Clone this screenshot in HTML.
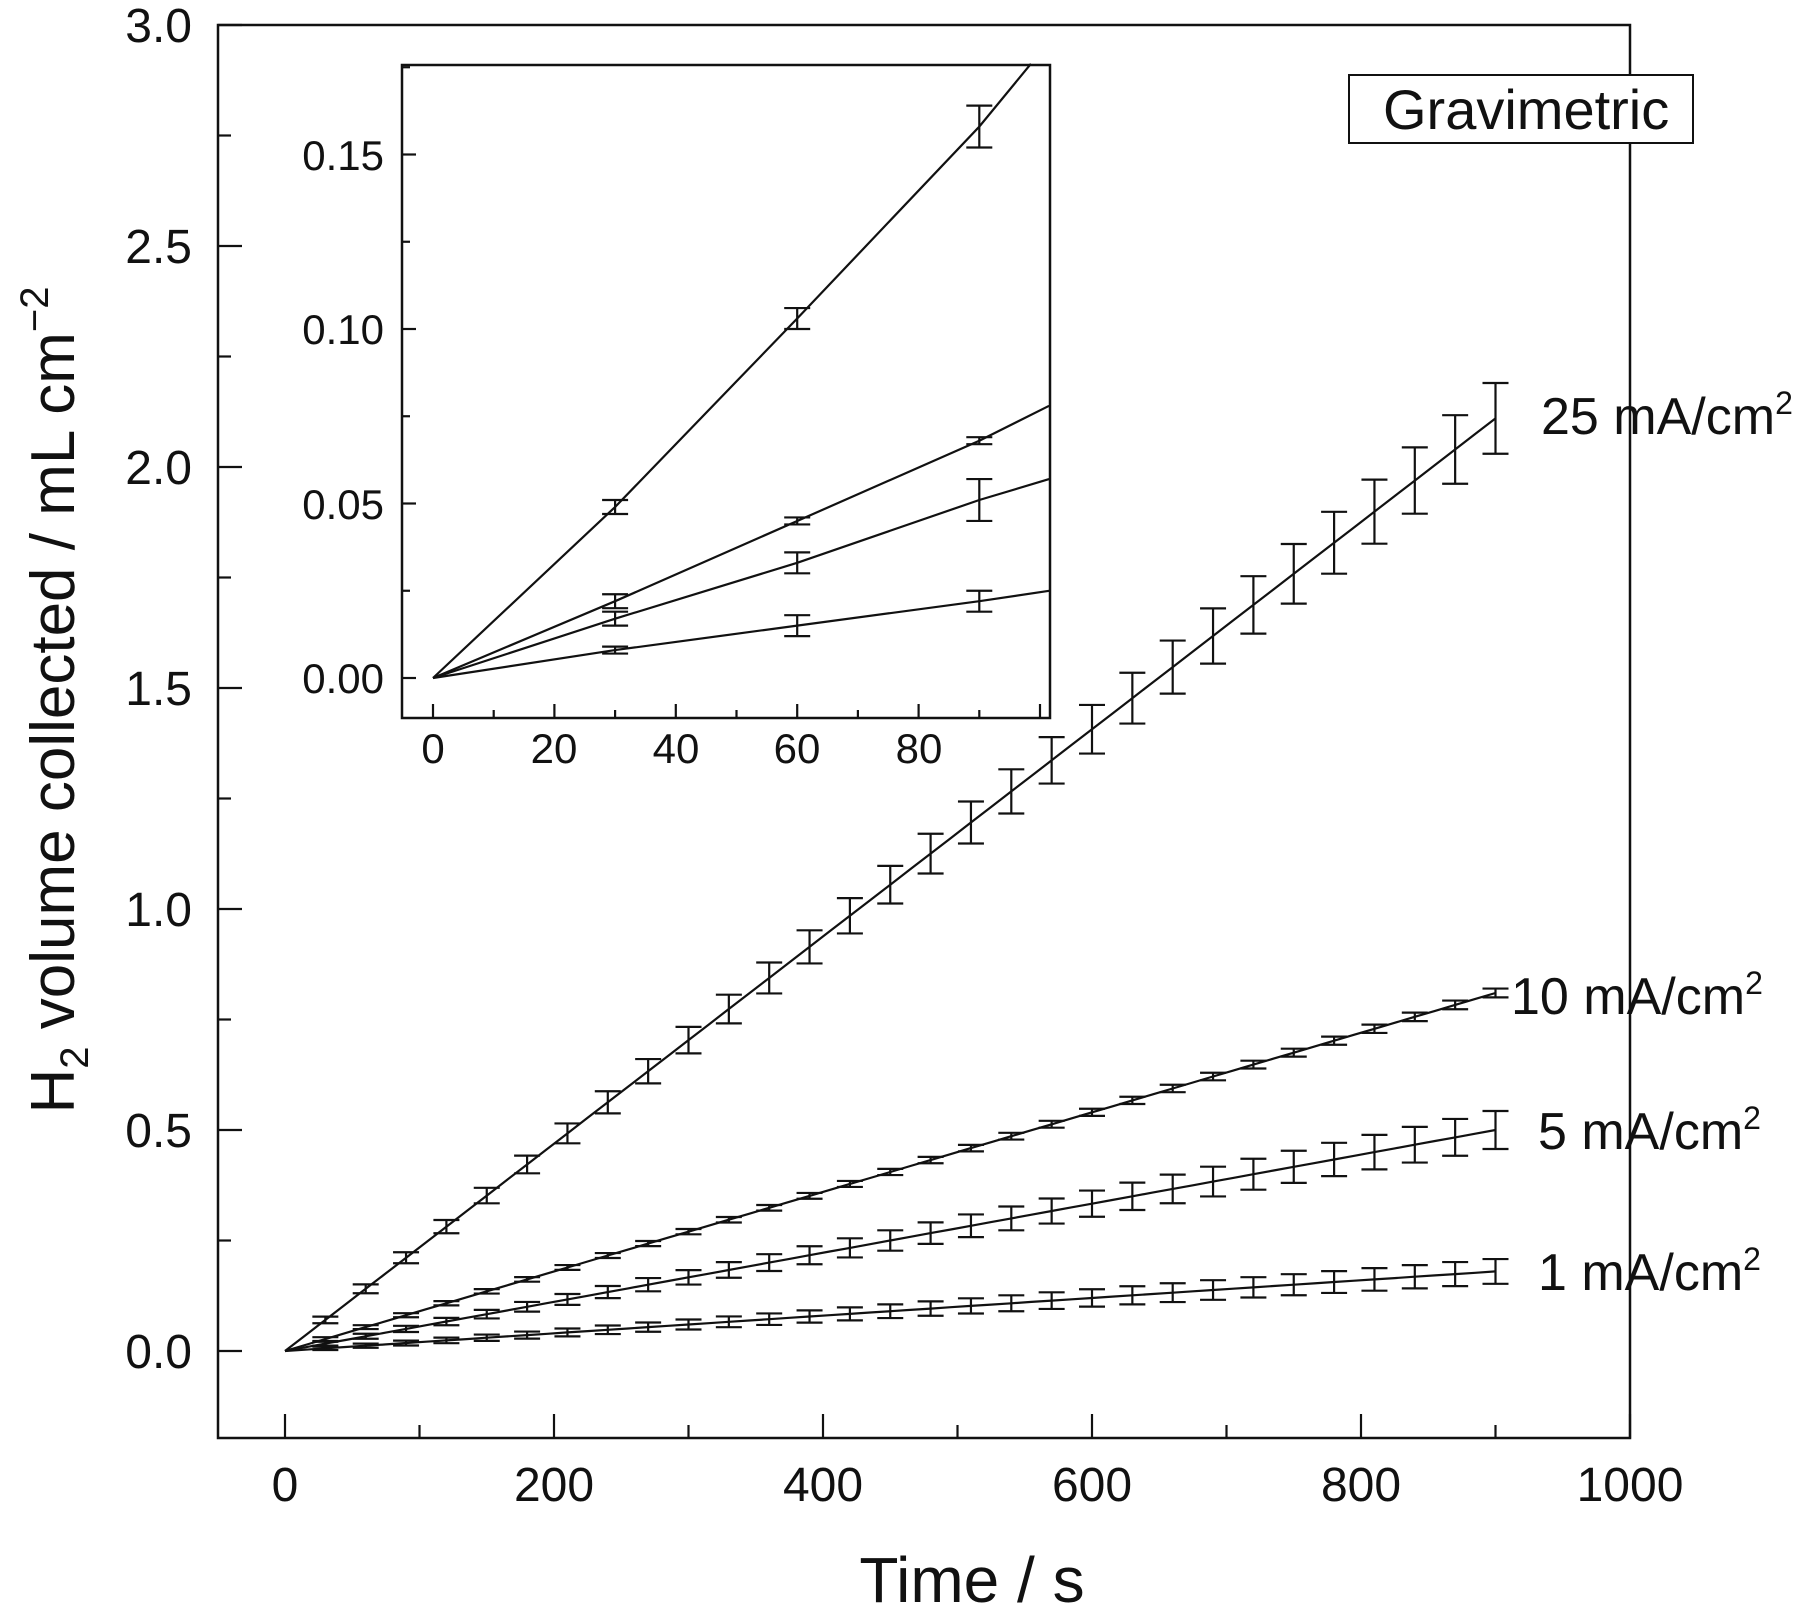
<!DOCTYPE html>
<html><head><meta charset="utf-8"><style>
html,body{margin:0;padding:0;background:#fff;width:1800px;height:1607px;overflow:hidden}
svg{display:block}
text{font-family:"Liberation Sans",sans-serif;fill:#111}
</style></head><body>
<svg id="s" width="1800" height="1607" viewBox="0 0 1800 1607" xmlns="http://www.w3.org/2000/svg">
<g id="g" stroke="#111" fill="none" stroke-width="2.2"></g>
<rect x="218" y="25" width="1412" height="1413" fill="none" stroke="#111" stroke-width="2.5"/>
<rect x="402" y="65" width="648" height="653" fill="none" stroke="#111" stroke-width="2.5"/>
<rect x="1349" y="75" width="344" height="68" fill="#fff" stroke="#111" stroke-width="2"/>
<text x="1383" y="129" font-size="56">Gravimetric</text>
<g font-size="48" text-anchor="end">
<text x="192" y="1368">0.0</text><text x="192" y="1147">0.5</text><text x="192" y="926">1.0</text>
<text x="192" y="705">1.5</text><text x="192" y="484">2.0</text><text x="192" y="263">2.5</text><text x="192" y="42">3.0</text>
</g>
<g font-size="48" text-anchor="middle">
<text x="285" y="1501">0</text><text x="554" y="1501">200</text><text x="823" y="1501">400</text>
<text x="1092" y="1501">600</text><text x="1361" y="1501">800</text><text x="1630" y="1501">1000</text>
</g>
<text x="972" y="1602" font-size="64" text-anchor="middle">Time / s</text>
<text transform="translate(74,700) rotate(-90)" font-size="62" text-anchor="middle">H<tspan font-size="40" dy="14">2</tspan><tspan dy="-14"> volume collected / mL cm</tspan><tspan font-size="40" dy="-26">−2</tspan></text>
<g font-size="52">
<text x="1541" y="434">25 mA/cm<tspan font-size="32" dy="-20">2</tspan></text>
<text x="1511" y="1014">10 mA/cm<tspan font-size="32" dy="-20">2</tspan></text>
<text x="1538" y="1149">5 mA/cm<tspan font-size="32" dy="-20">2</tspan></text>
<text x="1538" y="1290">1 mA/cm<tspan font-size="32" dy="-20">2</tspan></text>
</g>
<g font-size="42" text-anchor="end">
<text x="384" y="693">0.00</text><text x="384" y="519">0.05</text><text x="384" y="344">0.10</text><text x="384" y="170">0.15</text>
</g>
<g font-size="42" text-anchor="middle">
<text x="433" y="763">0</text><text x="554" y="763">20</text><text x="676" y="763">40</text><text x="797" y="763">60</text><text x="919" y="763">80</text>
</g>
</svg>
<script>
var g=document.getElementById('g'),h='';
function L(a,b,c,d){h+='<line x1="'+a+'" y1="'+b+'" x2="'+c+'" y2="'+d+'"/>';}
var X=function(t){return 285+t*1.345},Y=function(v){return 1351-v*442};
for(var v=0;v<=3.01;v+=0.25){var y=Y(v);L(218,y,218+((Math.round(v*4)%2)?13:24),y);}
for(var t=0;t<=1000;t+=100){var x=X(t);L(x,1438,x,1438-((t%200)?13:24));}
var S=[[2.11/900,0.005,0.075],[0.81/900,0.004,0.006],[0.50/900,0.003,0.04],[0.18/900,0.003,0.025]];
S.forEach(function(s){var p='M'+X(0)+' '+Y(0);
 for(var t=0;t<=905;t+=15)p+=' L'+X(t).toFixed(1)+' '+Y(s[0]*t).toFixed(1);
 h+='<path d="'+p+'"/>';
 for(var t=30;t<=900;t+=30){var x=X(t),v=s[0]*t,e=s[1]+s[2]*t/900;var y1=Y(v+e),y2=Y(v-e);
  L(x,y1,x,y2);L(x-13,y1,x+13,y1);L(x-13,y2,x+13,y2);}});
var x0=433,xs=6.07,y0=678,ys=3490;
var IX=function(t){return x0+t*xs},IY=function(v){return y0-v*ys};
for(var v=0;v<=0.176;v+=0.025){var y=IY(v);L(402,y,402+((Math.round(v*40)%2)?8:14),y);}
for(var t=0;t<=100;t+=10){var x=IX(t);L(x,718,x,718-((t%20)?8:14));}
var I=[[[0,0],[30,0.049],[60,0.103],[90,0.158],[98.5,0.176]],[[0,0],[30,0.022],[60,0.045],[90,0.068],[101.5,0.078]],[[0,0],[30,0.017],[60,0.033],[90,0.051],[101.5,0.057]],[[0,0],[30,0.008],[60,0.015],[90,0.022],[101.5,0.025]]];
var E=[[0.002,0.003,0.006],[0.002,0.001,0.001],[0.002,0.003,0.006],[0.001,0.003,0.003]];
I.forEach(function(s,i){var p='';s.forEach(function(q,j){p+=(j?' L':'M')+IX(q[0]).toFixed(1)+' '+IY(q[1]).toFixed(1);});
 h+='<path d="'+p+'"/>';
 for(var j=1;j<=3;j++){var x=IX(s[j][0]),v=s[j][1],e=E[i][j-1];var y1=IY(v+e),y2=IY(v-e);
  L(x,y1,x,y2);L(x-13,y1,x+13,y1);L(x-13,y2,x+13,y2);}});
g.innerHTML=h;
</script>
</body></html>
